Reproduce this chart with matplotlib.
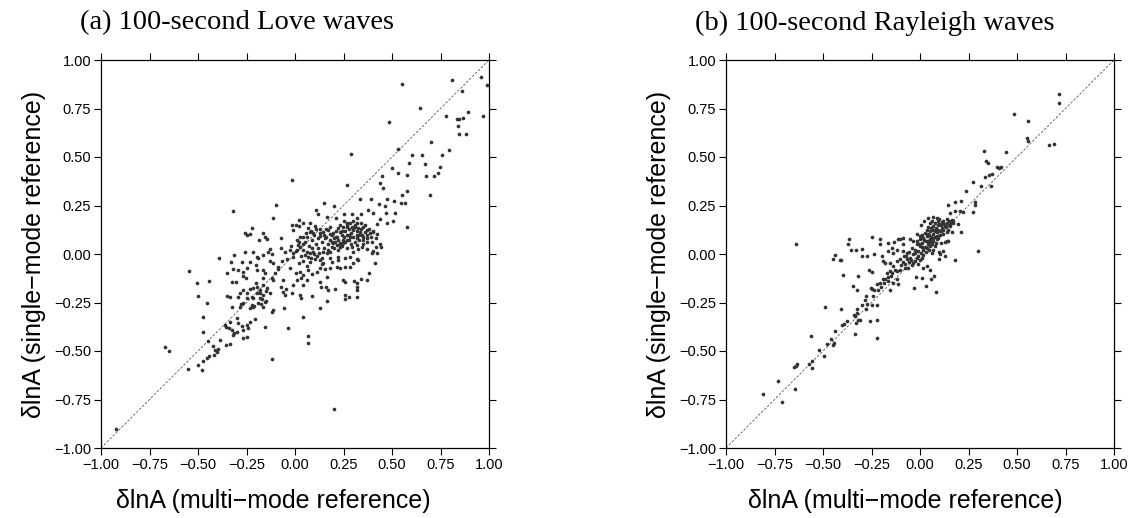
import numpy as np
import matplotlib
matplotlib.use("Agg")
import matplotlib.pyplot as plt
from matplotlib.ticker import FuncFormatter

# Panel (a): 100 s Love waves, (multi-mode, single-mode) dlnA pairs
love_pts = [
    (0.55, 0.875), (0.81, 0.897), (0.96, 0.914), (0.99, 0.873), (0.86, 0.842), (0.644, 0.753),
    (0.486, 0.682), (0.777, 0.711), (0.893, 0.730), (0.833, 0.696), (0.847, 0.697), (0.864, 0.701),
    (0.967, 0.713), (0.838, 0.660), (0.847, 0.617), (0.881, 0.620), (0.70, 0.577), (0.531, 0.543),
    (0.796, 0.538), (0.289, 0.515), (0.605, 0.512), (0.655, 0.512), (0.758, 0.509), (0.588, 0.467),
    (0.672, 0.462), (0.50, 0.445), (0.749, 0.448), (0.533, 0.416), (0.576, 0.407), (0.675, 0.402),
    (0.718, 0.402), (0.739, 0.416), (0.447, 0.404), (-0.015, 0.381), (0.268, 0.357), (0.438, 0.364),
    (0.452, 0.338), (0.576, 0.325), (0.694, 0.306), (0.552, 0.302), (0.335, 0.285), (0.39, 0.285),
    (0.472, 0.285), (0.51, 0.275), (0.546, 0.261), (0.567, 0.265), (0.433, 0.256), (0.466, 0.249),
    (0.203, 0.249), (0.151, 0.263), (-0.098, 0.251), (-0.318, 0.222), (0.514, 0.213), (0.107, 0.225),
    (0.117, 0.206), (0.163, 0.192), (0.211, 0.184), (0.253, 0.204), (0.296, 0.208), (0.338, 0.208),
    (0.318, 0.184), (0.378, 0.227), (0.40, 0.210), (0.469, 0.210), (0.473, 0.162), (0.503, 0.172),
    (0.424, 0.153), (0.438, 0.180), (-0.112, 0.186), (0.579, 0.141), (0.019, 0.175), (0.022, 0.146),
    (-0.223, 0.134),
    (-0.015, 0.148), (0.003, 0.151), (0.043, 0.158), (0.077, 0.162), (0.105, 0.144), (0.129, 0.127),
    (0.146, 0.115), (0.172, 0.124), (0.180, 0.103), (0.198, 0.110), (0.215, 0.089), (0.223, 0.132),
    (0.232, 0.115), (0.249, 0.141), (0.266, 0.149), (0.284, 0.158), (0.292, 0.141), (0.301, 0.124),
    (0.309, 0.149), (0.318, 0.158), (0.326, 0.132), (0.335, 0.115), (0.344, 0.098), (0.352, 0.141),
    (0.361, 0.115), (0.369, 0.124), (0.387, 0.107), (0.404, 0.115), (0.421, 0.103), (0.418, 0.081),
    (0.438, 0.050), (0.395, 0.064), (0.369, 0.081), (0.349, 0.072), (0.318, 0.081), (0.284, 0.089),
    (0.266, 0.072), (0.249, 0.072), (0.232, 0.058), (0.206, 0.064), (0.180, 0.072), (0.155, 0.081),
    (0.129, 0.093), (0.095, 0.107), (0.077, 0.115), (0.069, 0.132), (0.057, 0.107), (0.043, 0.089),
    (0.026, 0.089), (0.009, 0.072), (-0.012, 0.124), (-0.249, 0.098), (-0.232, 0.103), (-0.258, 0.110),
    (-0.167, 0.107), (-0.155, 0.089), (-0.184, 0.072), (-0.072, 0.082), (-0.146, 0.079),
    (-0.074, 0.029), (-0.026, 0.021), (-0.012, 0.003), (0.003, 0.017), (0.017, 0.046), (0.026, 0.034),
    (0.043, 0.021), (0.052, -0.005), (0.060, 0.012), (0.069, -0.014), (0.077, 0.003), (0.086, 0.029),
    (0.095, 0.012), (0.103, -0.027), (0.112, -0.010), (0.125, 0.003), (0.137, -0.022), (0.146, 0.012),
    (0.163, 0.003), (0.172, 0.021), (0.189, 0.038), (0.198, 0.055), (0.215, 0.046), (0.223, 0.021),
    (0.232, 0.038), (0.249, 0.055), (0.266, 0.029), (0.292, 0.038), (0.301, 0.012), (0.318, 0.046),
    (0.326, 0.024), (0.344, 0.038), (0.369, 0.024), (0.400, 0.017), (0.418, 0.034), (0.442, 0.034),
    (0.421, 0.003), (0.395, 0.003), (0.318, -0.027), (0.326, -0.031), (0.284, -0.014), (0.258, -0.022),
    (0.220, -0.014), (0.189, -0.040), (0.146, -0.045), (0.129, -0.031), (0.077, -0.040), (0.043, -0.034),
    (0.022, -0.045), (-0.009, -0.014), (-0.129, 0.026), (-0.120, 0.000), (-0.141, 0.012), (-0.163, -0.005),
    (-0.189, -0.022), (-0.198, -0.014), (-0.215, 0.012), (-0.258, 0.012), (-0.314, -0.005), (-0.330, -0.040),
    (-0.390, -0.022), (-0.275, -0.041), (-0.232, -0.041), (-0.201, -0.057), (-0.129, -0.034), (-0.112, -0.048),
    (-0.069, -0.034), (-0.043, -0.027),
    (-0.086, -0.065), (-0.089, -0.079), (-0.103, -0.096), (-0.163, -0.082), (-0.198, -0.082), (-0.249, -0.074),
    (-0.266, -0.091), (-0.292, -0.082), (-0.318, -0.079), (-0.349, -0.100), (-0.266, -0.113), (-0.254, -0.122),
    (-0.306, -0.143), (-0.323, -0.143), (-0.442, -0.137), (-0.503, -0.151), (-0.548, -0.086), (-0.163, -0.122),
    (-0.155, -0.096), (-0.120, -0.122), (-0.112, -0.134), (-0.026, -0.074), (0.005, -0.096), (0.026, -0.091),
    (0.043, -0.108), (0.069, -0.082), (0.086, -0.103), (0.112, -0.091), (0.129, -0.074), (0.155, -0.079),
    (0.180, -0.074), (0.215, -0.065), (0.232, -0.074), (0.258, -0.065), (0.284, -0.065), (0.301, -0.048),
    (0.338, -0.131), (0.369, -0.134), (0.380, -0.096), (0.412, -0.048), (0.009, -0.134), (0.031, -0.122),
    (0.064, -0.134), (0.129, -0.143), (0.167, -0.117), (0.249, -0.134), (0.258, -0.143), (0.304, -0.137),
    (0.318, -0.151), (-0.060, -0.134), (-0.074, -0.168), (-0.046, -0.182), (-0.009, -0.160), (0.043, -0.160),
    (-0.498, -0.216), (-0.455, -0.251), (-0.352, -0.216), (-0.335, -0.223), (-0.292, -0.223), (-0.284, -0.203),
    (-0.266, -0.186), (-0.215, -0.177), (-0.198, -0.168), (-0.180, -0.186), (-0.163, -0.160), (-0.146, -0.177),
    (-0.129, -0.203), (-0.198, -0.203), (-0.180, -0.229), (-0.163, -0.211), (-0.155, -0.246), (-0.215, -0.229),
    (-0.223, -0.263), (-0.249, -0.229), (-0.266, -0.254), (-0.284, -0.275), (-0.326, -0.275), (-0.175, -0.258),
    (-0.151, -0.241), (-0.060, -0.194), (-0.053, -0.211), (-0.015, -0.203), (0.026, -0.211), (0.031, -0.229),
    (0.086, -0.216), (0.132, -0.172), (0.160, -0.172), (0.172, -0.186), (0.206, -0.182), (0.258, -0.211),
    (0.259, -0.234), (0.280, -0.223), (0.318, -0.186), (0.321, -0.220), (0.318, -0.168), (0.167, -0.241),
    (0.129, -0.280), (-0.055, -0.277), (-0.112, -0.289), (-0.163, -0.271), (-0.117, -0.297), (-0.215, -0.271),
    (-0.232, -0.280),
    (-0.472, -0.326), (-0.361, -0.366), (-0.356, -0.378), (-0.335, -0.349), (-0.301, -0.332), (-0.292, -0.357),
    (-0.326, -0.392), (-0.314, -0.405), (-0.321, -0.418), (-0.301, -0.400), (-0.275, -0.371), (-0.266, -0.392),
    (-0.249, -0.366), (-0.232, -0.349), (-0.206, -0.337), (-0.241, -0.383), (-0.155, -0.375), (-0.266, -0.435),
    (-0.249, -0.426), (-0.338, -0.383), (-0.034, -0.380), (0.043, -0.326), (0.069, -0.421), (0.069, -0.460),
    (-0.472, -0.400), (-0.387, -0.443),
    (-0.670, -0.478), (-0.649, -0.498), (-0.550, -0.595), (-0.498, -0.572), (-0.479, -0.598), (-0.472, -0.550),
    (-0.455, -0.538), (-0.442, -0.526), (-0.447, -0.448), (-0.421, -0.474), (-0.412, -0.495), (-0.418, -0.521),
    (-0.404, -0.503), (-0.395, -0.491), (-0.356, -0.469), (-0.335, -0.464), (-0.120, -0.541),
    (0.203, -0.800), (-0.922, -0.900),
    (0.05, 0.06), (0.07, 0.04), (0.09, 0.07), (0.11, 0.05), (0.12, 0.08), (0.14, 0.06), (0.16, 0.09),
    (0.17, 0.05), (0.19, 0.10), (0.20, 0.08), (0.21, 0.12), (0.22, 0.07), (0.24, 0.10), (0.25, 0.09),
    (0.26, 0.12), (0.27, 0.10), (0.28, 0.13), (0.29, 0.11), (0.30, 0.09), (0.31, 0.14), (0.32, 0.12),
    (0.33, 0.10), (0.34, 0.13), (0.35, 0.09), (0.36, 0.15), (0.37, 0.10), (0.38, 0.13), (0.40, 0.12),
    (0.27, 0.16), (0.30, 0.17), (0.25, 0.17), (0.23, 0.15), (0.18, 0.14), (0.16, 0.13), (0.13, 0.11),
    (0.10, 0.10), (0.08, 0.12), (0.06, 0.09), (0.04, 0.05), (0.02, 0.06), (0.01, 0.02), (0.03, -0.01),
    (0.08, -0.02), (0.10, 0.00), (0.12, 0.03), (0.15, 0.03), (0.18, 0.01), (0.20, 0.03), (0.24, 0.04),
    (0.26, 0.06), (0.28, 0.07), (0.31, 0.06), (0.33, 0.07), (0.35, 0.05), (0.22, -0.03), (0.18, -0.02),
    (0.14, -0.05), (0.06, -0.06), (-0.02, 0.04), (-0.05, 0.01),
    (-0.20, -0.15), (-0.18, -0.20), (-0.22, -0.22), (-0.25, -0.20), (-0.17, -0.23), (-0.19, -0.25),
    (-0.23, -0.18), (-0.15, -0.19), (-0.28, -0.26), (-0.21, -0.27),
    (0.28, 0.10), (0.30, 0.13), (0.32, 0.10), (0.27, 0.14), (0.24, 0.12), (0.21, 0.09), (0.19, 0.06),
    (0.34, 0.16), (0.37, 0.06), (0.39, 0.09), (0.15, 0.10), (0.11, 0.13), (0.23, 0.05), (0.29, 0.05),
]

# Panel (b): 100 s Rayleigh waves
rayl_pts = [
    (0.717, 0.824), (0.715, 0.778), (0.482, 0.721), (0.557, 0.685), (0.551, 0.596), (0.557, 0.584),
    (0.666, 0.562), (0.690, 0.569), (0.331, 0.533), (0.443, 0.527), (0.338, 0.478), (0.352, 0.469),
    (0.395, 0.449), (0.408, 0.443), (0.420, 0.449), (0.334, 0.399), (0.357, 0.407), (0.372, 0.414),
    (0.271, 0.370), (0.312, 0.349), (0.365, 0.349), (0.235, 0.325), (0.213, 0.275), (0.180, 0.268),
    (0.142, 0.251), (0.285, 0.270), (0.285, 0.255), (0.274, 0.219), (0.208, 0.220), (0.223, 0.217),
    (0.180, 0.222), (0.154, 0.212), (0.300, 0.013), (0.211, 0.112), (0.180, -0.032), (0.081, -0.195),
    (-0.029, -0.174), (0.029, -0.165), (0.057, -0.131), (0.074, -0.112), (0.010, -0.124), (-0.021, -0.121),
    (-0.638, 0.049), (-0.364, 0.078), (-0.372, 0.049), (-0.357, 0.022), (-0.329, 0.020), (-0.297, 0.027),
    (-0.439, -0.004), (-0.449, -0.025), (-0.410, -0.032), (-0.405, -0.029), (-0.300, -0.009), (-0.271, -0.011),
    (-0.238, 0.000), (-0.245, 0.088), (-0.204, 0.076), (-0.204, 0.054), (-0.395, -0.107), (-0.321, -0.114),
    (-0.261, -0.083), (-0.250, -0.093), (-0.345, -0.167), (-0.324, -0.184), (-0.254, -0.177), (-0.245, -0.180),
    (-0.235, -0.188), (-0.489, -0.273), (-0.407, -0.282), (-0.280, -0.217), (-0.286, -0.238), (-0.298, -0.263),
    (-0.273, -0.256), (-0.250, -0.263), (-0.221, -0.261), (-0.324, -0.282), (-0.327, -0.303), (-0.341, -0.315),
    (-0.334, -0.320), (-0.278, -0.285), (-0.307, -0.340), (-0.259, -0.347), (-0.221, -0.340), (-0.393, -0.361),
    (-0.400, -0.364), (-0.374, -0.345), (-0.328, -0.354), (-0.322, -0.340), (-0.334, -0.414), (-0.221, -0.433),
    (-0.439, -0.397), (-0.563, -0.423), (-0.479, -0.466), (-0.461, -0.440), (-0.451, -0.468), (-0.443, -0.457),
    (-0.521, -0.497), (-0.497, -0.526), (-0.557, -0.551), (-0.571, -0.569), (-0.648, -0.582), (-0.635, -0.569),
    (-0.640, -0.577), (-0.556, -0.586), (-0.731, -0.654), (-0.645, -0.694), (-0.811, -0.720), (-0.712, -0.762),
    (0.197, 0.155), (0.149, 0.168), (0.163, 0.175), (0.172, 0.160), (0.043, 0.183), (0.069, 0.189),
    (0.086, 0.186), (0.099, 0.181), (0.120, 0.172), (0.137, 0.180), (0.007, 0.148), (0.021, 0.169),
    (0.051, 0.160), (0.069, 0.143), (0.094, 0.152), (0.111, 0.134), (0.129, 0.143), (0.146, 0.126),
    (0.154, 0.143), (0.034, 0.126), (0.051, 0.117), (0.069, 0.105), (0.086, 0.112), (0.103, 0.117),
    (0.120, 0.105), (0.137, 0.112), (0.163, 0.112), (-0.017, 0.103), (0.000, 0.092), (0.017, 0.083),
    (0.034, 0.092), (0.051, 0.075), (0.069, 0.066), (0.089, 0.078), (0.106, 0.057), (0.129, 0.063),
    (0.146, 0.066), (0.096, 0.009), (0.120, 0.014), (0.103, -0.002), (0.129, -0.011), (0.096, -0.028),
    (0.137, 0.066), (-0.034, 0.066), (-0.017, 0.049), (0.000, 0.040), (0.009, 0.058), (0.017, 0.023),
    (0.034, 0.031), (0.051, 0.040), (0.060, 0.006), (0.069, 0.023), (0.077, 0.040), (-0.103, 0.075),
    (-0.089, 0.083), (-0.051, 0.075), (-0.132, 0.060), (-0.146, 0.031), (-0.120, 0.023), (-0.086, 0.015),
    (-0.069, 0.003), (-0.051, -0.020), (-0.034, -0.002), (-0.017, -0.020), (0.000, -0.032), (-0.034, -0.045),
    (-0.009, -0.054), (0.017, -0.071), (0.034, -0.063), (0.051, -0.080), (-0.166, 0.015), (-0.197, -0.011),
    (-0.192, -0.037), (-0.180, -0.046), (-0.154, -0.046), (-0.137, -0.063), (-0.120, -0.037), (-0.103, -0.028),
    (-0.077, -0.054), (-0.060, -0.071), (-0.103, -0.080), (-0.120, -0.089), (-0.154, -0.089), (-0.172, -0.097),
    (-0.149, -0.114), (-0.180, -0.131), (-0.192, -0.131), (-0.163, -0.140), (-0.137, -0.148), (-0.120, -0.131),
    (-0.112, -0.157), (-0.154, -0.183), (-0.206, -0.148), (-0.223, -0.157), (-0.214, -0.183), (-0.240, -0.217),
    (-0.089, 0.049), (-0.137, 0.006), (-0.163, 0.058), (-0.113, 0.078), (-0.082, -0.011), (-0.065, -0.025),
    (-0.055, -0.042), (-0.041, -0.059), (-0.026, 0.023), (-0.009, 0.015), (0.003, 0.003), (0.014, -0.007),
    (0.026, 0.037), (0.043, 0.049), (0.055, 0.061), (0.069, 0.083), (0.086, 0.095), (0.103, 0.100),
    (0.117, 0.126), (0.134, 0.140), (0.151, 0.152), (0.168, 0.169), (-0.014, 0.066), (0.000, 0.075),
    (0.031, 0.066), (0.048, 0.100), (0.065, 0.126), (0.082, 0.135), (0.099, 0.157), (0.113, 0.164),
    (0.060, 0.170), (0.078, 0.160), (0.092, 0.170), (0.108, 0.148), (0.125, 0.155), (0.140, 0.160),
    (0.158, 0.158), (0.040, 0.140), (0.058, 0.132), (0.075, 0.120), (0.092, 0.125), (0.110, 0.120),
    (0.025, 0.110), (0.040, 0.105), (0.058, 0.090), (0.075, 0.088), (0.095, 0.082), (0.010, 0.100),
    (0.020, 0.070), (0.040, 0.065), (0.060, 0.050), (0.085, 0.055), (-0.005, 0.050), (0.010, 0.035),
    (-0.040, 0.030), (-0.025, 0.005), (-0.010, -0.010), (0.010, -0.020), (0.030, 0.010), (0.045, 0.020),
    (-0.055, 0.010), (-0.070, -0.010), (-0.045, -0.030), (-0.025, -0.035), (-0.090, -0.040), (-0.075, -0.070),
    (-0.100, -0.055), (-0.130, -0.080), (-0.145, -0.100), (-0.165, -0.120), (-0.185, -0.150), (-0.200, -0.170),
]

titles = ["(a) 100-second Love waves", "(b) 100-second Rayleigh waves"]
ticks = [-1.0, -0.75, -0.5, -0.25, 0.0, 0.25, 0.5, 0.75, 1.0]
xlabel = "\u03b4lnA (multi\u2212mode reference)"
ylabel = "\u03b4lnA (single\u2212mode reference)"

plt.rcParams["font.family"] = ["Liberation Sans", "DejaVu Sans"]

fig = plt.figure(figsize=(11.34, 5.18), dpi=100)
W, H = 1134.0, 518.0
lefts = [101, 726]
title_x = [237, 875]
xlab_x = [273, 905]

fmt = FuncFormatter(lambda v, p: f"{v:.2f}".replace("-", "\u2212"))

for i, pts in enumerate([love_pts, rayl_pts]):
    xy = np.array(pts)
    ax = fig.add_axes([lefts[i] / W, 1 - 448 / H, 388 / W, 388 / H])
    ax.plot([-1, 1], [-1, 1], color="#555555", lw=0.6, dashes=(3, 2), zorder=1)
    ax.scatter(xy[:, 0], xy[:, 1], s=7, color="#333333", linewidths=0, zorder=3)
    ax.set_xlim(-1, 1)
    ax.set_ylim(-1, 1)
    ax.set_xticks(ticks)
    ax.set_yticks(ticks)
    ax.xaxis.set_major_formatter(fmt)
    ax.yaxis.set_major_formatter(fmt)
    ax.tick_params(direction="out", length=5, width=0.8, labelsize=10.5,
                   top=True, right=True, pad=2)
    for sp in ax.spines.values():
        sp.set_linewidth(0.9)
    ax.set_xlabel(xlabel, fontsize=18, labelpad=6)
    ax.xaxis.set_label_coords((xlab_x[i] - lefts[i]) / 388, -0.105)
    ax.set_ylabel(ylabel, fontsize=18, labelpad=6)
    fig.text(title_x[i] / W, 1 - 23 / H, titles[i], family="Liberation Serif",
             fontsize=20.5, ha="center", va="center")

fig.savefig("out.png", dpi=100)
